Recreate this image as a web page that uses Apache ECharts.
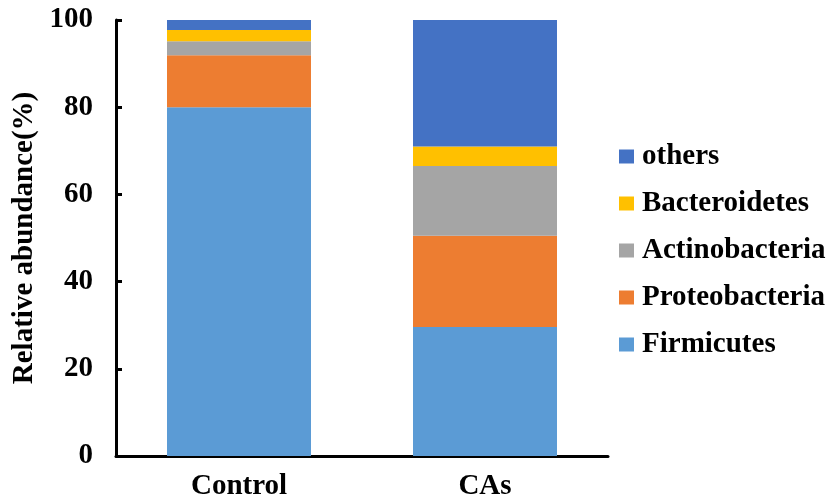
<!DOCTYPE html>
<html><head><meta charset="utf-8">
<script src="https://cdn.jsdelivr.net/npm/echarts@6/dist/echarts.min.js"></script>
<style>html,body{margin:0;padding:0;background:#fff}#c{width:828px;height:502px}</style>
</head><body><div id="c"></div>
<script>
const categories = ['Control', 'CAs'];
const seriesNames = ['Firmicutes', 'Proteobacteria', 'Actinobacteria', 'Bacteroidetes', 'others'];
const firmicutes = [80.0, 29.6];
const proteobacteria = [11.9, 20.9];
const actinobacteria = [3.2, 16.0];
const bacteroidetes = [2.6, 4.5];
const others = [2.3, 29.0];
const yTicks = [0, 20, 40, 60, 80, 100];
const colors = ['#5B9BD5', '#ED7D31', '#A5A5A5', '#FFC000', '#4472C4'];
const values = [firmicutes, proteobacteria, actinobacteria, bacteroidetes, others];
const font = '"Liberation Serif", "Times New Roman", serif';
const chart = echarts.init(document.getElementById('c'));
chart.setOption({
  animation: false,
  grid: {left: 116, right: 220, top: 20, bottom: 46},
  legend: {
    orient: 'vertical', left: 614, top: 137, padding: 5,
    data: seriesNames.slice().reverse(),
    itemWidth: 15, itemHeight: 14, itemGap: 18,
    icon: 'rect',
    textStyle: {fontFamily: font, fontWeight: 'bold', fontSize: 29, lineHeight: 29, color: '#000', padding: [0, 0, 0, 3]}
  },
  xAxis: {
    type: 'category', data: categories,
    axisLine: {lineStyle: {color: '#000', width: 3}},
    axisTick: {inside: true, length: 6, lineStyle: {color: '#000', width: 3}, alignWithLabel: false},
    axisLabel: {fontFamily: font, fontWeight: 'bold', fontSize: 29, color: '#000', margin: 16}
  },
  yAxis: {
    type: 'value', min: 0, max: 100, interval: 20,
    name: 'Relative abundance(%)', nameLocation: 'middle', nameGap: 77,
    nameTextStyle: {fontFamily: font, fontWeight: 'bold', fontSize: 29, color: '#000'},
    axisLine: {show: true, lineStyle: {color: '#000', width: 3}},
    axisTick: {show: true, inside: true, length: 6, lineStyle: {color: '#000', width: 3}},
    splitLine: {show: false},
    axisLabel: {fontFamily: font, fontWeight: 'bold', fontSize: 29, color: '#000', margin: 23,
      formatter: v => yTicks.includes(v) ? String(v) : ''}
  },
  series: seriesNames.map((n, i) => ({
    name: n, type: 'bar', stack: 'total', data: values[i], barWidth: 144,
    itemStyle: {color: colors[i]}
  }))
});
</script></body></html>
